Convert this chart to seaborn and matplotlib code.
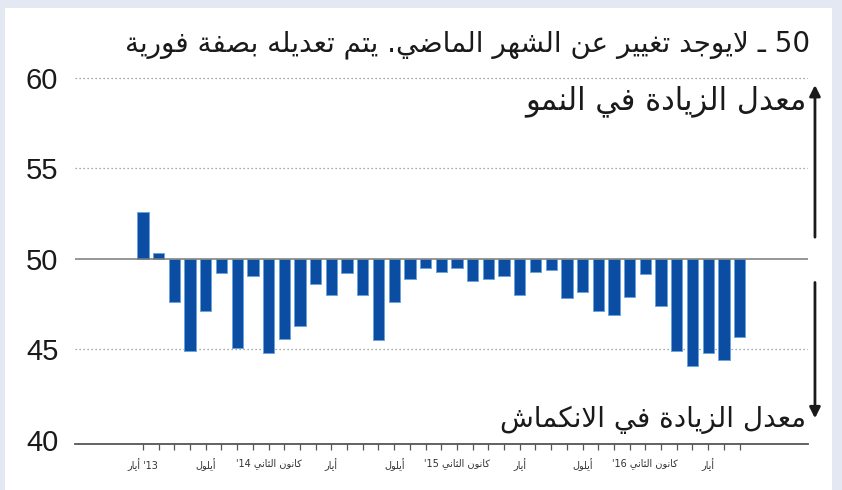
import re
import matplotlib
matplotlib.use("Agg")
import matplotlib.pyplot as plt
import matplotlib.transforms as mtransforms
from matplotlib.patches import Rectangle
import pandas as pd
import seaborn as sns

# ---------------- data ----------------
months = ["2013-05", "2013-06", "2013-07", "2013-08", "2013-09", "2013-10", "2013-11", "2013-12",
          "2014-01", "2014-02", "2014-03", "2014-04", "2014-05", "2014-06", "2014-07", "2014-08",
          "2014-09", "2014-10", "2014-11", "2014-12", "2015-01", "2015-02", "2015-03", "2015-04",
          "2015-05", "2015-06", "2015-07", "2015-08", "2015-09", "2015-10", "2015-11", "2015-12",
          "2016-01", "2016-02", "2016-03", "2016-04", "2016-05", "2016-06", "2016-07"]
values = [52.6, 50.35, 47.6, 44.9, 47.15, 49.2, 45.1, 49.05, 44.8, 45.6,
          46.3, 48.6, 48.0, 49.2, 48.0, 45.5, 47.6, 48.9, 49.5, 49.3,
          49.5, 48.8, 48.9, 49.05, 48.0, 49.3, 49.4, 47.85, 48.2, 47.15,
          46.9, 47.9, 49.15, 47.4, 44.9, 44.1, 44.8, 44.4, 45.7]
baseline = 50
y_ticks = [40, 45, 50, 55, 60]
label_months = ["2013-05", "2013-09", "2014-01", "2014-05", "2014-09",
                "2015-01", "2015-05", "2015-09", "2016-01", "2016-05"]
label_texts = ["'13 أيار", "أيلول", "كانون الثاني '14", "أيار", "أيلول",
               "كانون الثاني '15", "أيار", "أيلول", "كانون الثاني '16", "أيار"]
title_text = "50 ـ لايوجد تغيير عن الشهر الماضي. يتم تعديله بصفة فورية"
up_label = "معدل الزيادة في النمو"
down_label = "معدل الزيادة في الانكماش"

# ------------- minimal Arabic shaping (presentation forms) + RTL order -------------
_FORMS = {
    '\u0627': (0xFE8D, 0xFE8E, None, None),
    '\u0623': (0xFE83, 0xFE84, None, None),
    '\u0628': (0xFE8F, 0xFE90, 0xFE91, 0xFE92),
    '\u0629': (0xFE93, 0xFE94, None, None),
    '\u062A': (0xFE95, 0xFE96, 0xFE97, 0xFE98),
    '\u062B': (0xFE99, 0xFE9A, 0xFE9B, 0xFE9C),
    '\u062C': (0xFE9D, 0xFE9E, 0xFE9F, 0xFEA0),
    '\u062F': (0xFEA9, 0xFEAA, None, None),
    '\u0631': (0xFEAD, 0xFEAE, None, None),
    '\u0632': (0xFEAF, 0xFEB0, None, None),
    '\u0634': (0xFEB5, 0xFEB6, 0xFEB7, 0xFEB8),
    '\u0635': (0xFEB9, 0xFEBA, 0xFEBB, 0xFEBC),
    '\u0636': (0xFEBD, 0xFEBE, 0xFEBF, 0xFEC0),
    '\u0639': (0xFEC9, 0xFECA, 0xFECB, 0xFECC),
    '\u063A': (0xFECD, 0xFECE, 0xFECF, 0xFED0),
    '\u0641': (0xFED1, 0xFED2, 0xFED3, 0xFED4),
    '\u0643': (0xFED9, 0xFEDA, 0xFEDB, 0xFEDC),
    '\u0644': (0xFEDD, 0xFEDE, 0xFEDF, 0xFEE0),
    '\u0645': (0xFEE1, 0xFEE2, 0xFEE3, 0xFEE4),
    '\u0646': (0xFEE5, 0xFEE6, 0xFEE7, 0xFEE8),
    '\u0647': (0xFEE9, 0xFEEA, 0xFEEB, 0xFEEC),
    '\u0648': (0xFEED, 0xFEEE, None, None),
    '\u064A': (0xFEF1, 0xFEF2, 0xFEF3, 0xFEF4),
    '\uFEFB': (0xFEFB, 0xFEFC, None, None),
    '\uFEF7': (0xFEF7, 0xFEF8, None, None),
}


def _shape_word(run):
    run = run.replace('\u0644\u0627', '\uFEFB').replace('\u0644\u0623', '\uFEF7')
    out = []
    n = len(run)
    for i, ch in enumerate(run):
        f = _FORMS.get(ch)
        if f is None:
            out.append(ch)
            continue
        prev = _FORMS.get(run[i - 1]) if i > 0 else None
        nxt = _FORMS.get(run[i + 1]) if i < n - 1 else None
        jp = prev is not None and prev[2] is not None
        jn = nxt is not None and f[2] is not None
        if jp and jn:
            c = f[3]
        elif jp:
            c = f[1]
        elif jn:
            c = f[2]
        else:
            c = f[0]
        out.append(chr(c))
    return ''.join(reversed(out))


def ar(text):
    """Logical Arabic text -> visual (left-to-right) string for matplotlib."""
    tokens = re.findall(r"[\u0600-\u06FF]+|'?\d+|.", text)
    vis = []
    for t in reversed(tokens):
        if re.match(r"[\u0600-\u06FF]", t):
            vis.append(_shape_word(t))
        else:
            vis.append(t)
    return ''.join(vis)


# ---------------- figure ----------------
sns.set_style("white")
plt.rcParams['font.family'] = ['DejaVu Sans']
AR_FONT = ['DejaVu Sans']
NUM_FONT = ['Liberation Sans Narrow', 'Liberation Sans', 'DejaVu Sans']

fig = plt.figure(figsize=(8.42, 4.90), dpi=100, facecolor='#e4e8f3')
fig.patches.append(Rectangle((5 / 842, 0), 827 / 842, 482 / 490, transform=fig.transFigure,
                             facecolor='white', edgecolor='none', zorder=-5))
ax = fig.add_axes([75 / 842, 46 / 490, 733 / 842, 368 / 490])
ax.set_facecolor('none')
ax.set_zorder(2)

df = pd.DataFrame({"month": months, "value": values})
df["height"] = df["value"] - baseline

sns.barplot(data=df, x="month", y="height", bottom=baseline, ax=ax,
            color="#0b4da2", saturation=1, errorbar=None, width=0.72,
            edgecolor="#6da3dc", linewidth=0.7, zorder=3)

ax.set_xlim(-4.33, 42.36)
ax.set_ylim(39.78, 60.1)

for yv in [45, 55, 60]:
    ax.axhline(yv, color='#8a8a8a', lw=0.9, ls=(0, (1, 2.2)), zorder=1)
ax.axhline(baseline, color='#7a7a7a', lw=1.1, zorder=4)

for s in ['left', 'top', 'right']:
    ax.spines[s].set_visible(False)
ax.spines['bottom'].set_color('#555555')
ax.spines['bottom'].set_linewidth(1.3)

ax.set_yticks(y_ticks)
ax.set_yticklabels([str(v) for v in y_ticks], family=NUM_FONT, fontsize=21, color='#1a1a1a')
ax.tick_params(axis='y', left=False, length=0, pad=12)

ax.set_xticks(range(len(months)))
lbl = dict(zip(label_months, label_texts))
ax.set_xticklabels([ar(lbl[m]) if m in lbl else '' for m in months],
                   family=AR_FONT, fontsize=7, color='#333333')
ax.tick_params(axis='x', bottom=True, direction='out', length=4, width=0.9,
               color='#555555', pad=6)
ax.set_xlabel('')
ax.set_ylabel('')

# title
fig.text(810 / 842, 1 - 45 / 490, ar(title_text), ha='right', va='center',
         family=AR_FONT, fontsize=20, color='#1a1a1a')

# side labels
tr = mtransforms.blended_transform_factory(ax.transAxes, ax.transData)
ax.text(0.998, 58.7, ar(up_label), transform=tr,
        ha='right', va='center', family=AR_FONT, fontsize=22, color='#1a1a1a', zorder=6)
ax.text(0.998, 41.1, ar(down_label), transform=tr,
        ha='right', va='center', family=AR_FONT, fontsize=20, color='#1a1a1a', zorder=6)

# arrows
ax.annotate('', xy=(1.0095, 59.6), xytext=(1.0095, 51.2), xycoords=tr, textcoords=tr,
            arrowprops=dict(arrowstyle='-|>', color='#1a1a1a', lw=2, mutation_scale=16,
                            shrinkA=0, shrinkB=0), annotation_clip=False)
ax.annotate('', xy=(1.0095, 41.2), xytext=(1.0095, 48.7), xycoords=tr, textcoords=tr,
            arrowprops=dict(arrowstyle='-|>', color='#1a1a1a', lw=2, mutation_scale=16,
                            shrinkA=0, shrinkB=0), annotation_clip=False)

fig.savefig('out.png', dpi=100, facecolor=fig.get_facecolor())
